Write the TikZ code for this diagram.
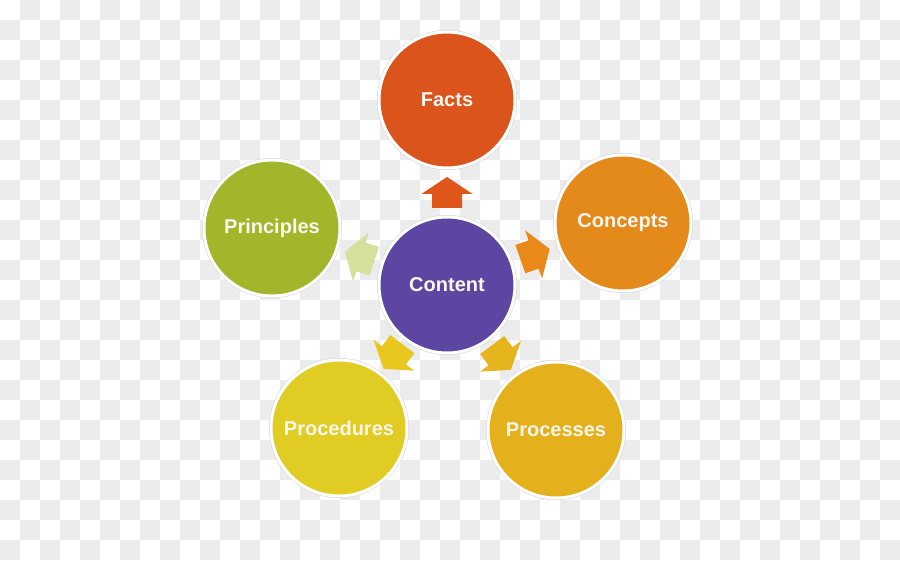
\documentclass[tikz,border=0pt]{standalone}
\usepackage{fontspec}
\setmainfont{Liberation Sans}
\usetikzlibrary{calc}
\definecolor{checkgrey}{RGB}{236,236,236}
\definecolor{factscol}{RGB}{218,84,28}
\definecolor{conceptscol}{RGB}{227,138,27}
\definecolor{principlescol}{RGB}{163,181,42}
\definecolor{contentcol}{RGB}{92,70,161}
\definecolor{procedurescol}{RGB}{225,204,36}
\definecolor{processescol}{RGB}{228,176,28}
\definecolor{factsarrow}{RGB}{222,86,26}
\definecolor{conceptsarrow}{RGB}{232,137,26}
\definecolor{principlesarrow}{RGB}{212,224,156}
\definecolor{proceduresarrow}{RGB}{232,200,30}
\definecolor{processesarrow}{RGB}{230,180,28}
\definecolor{labeltext}{RGB}{250,246,238}
\definecolor{shadowgrey}{RGB}{212,212,212}
\tikzset{
  bubble/.style={circle, minimum size=136pt, inner sep=0pt, draw=white, line width=3pt,
    text=labeltext, font=\bfseries\fontsize{20}{24}\selectfont},
  bubbleshadow/.style={circle, minimum size=140pt, inner sep=0pt, fill=shadowgrey, draw=none},
  blockarrow/.pic={
    \fill[pic actions] (-15.5,-15) -- (-1.5,-15) -- (-1.5,-25.5) -- (15.5,0)
      -- (-1.5,25.5) -- (-1.5,15) -- (-15.5,15) -- cycle;
  }
}
\begin{document}
\begin{tikzpicture}[x=1pt,y=1pt]
\useasboundingbox (0,0) rectangle (900,560);
% checkerboard background
\fill[white] (0,0) rectangle (900,560);
\foreach \i in {0,...,44}{
  \foreach \j in {0,...,27}{
    \pgfmathtruncatemacro{\parity}{mod(\i+\j,2)}
    \ifnum\parity=1
      \fill[checkgrey] (\i*20,540-\j*20) rectangle (\i*20+20,560-\j*20);
    \fi
  }
}
% shadows
\foreach \p in {(447,460),(623,337),(272,332),(447,275),(339,132),(556,130)}{
  \node[bubbleshadow] at \p {};
}
% circles
\node[bubble, fill=factscol] (facts) at (447,460) {Facts};
\node[bubble, fill=conceptscol] (concepts) at (623,337) {Concepts};
\node[bubble, fill=principlescol] (principles) at (272,332) {Principles};
\node[bubble, fill=contentcol] (content) at (447,275) {Content};
\node[bubble, fill=procedurescol] (procedures) at (339,132) {Procedures};
\node[bubble, fill=processescol] (processes) at (556,130) {Processes};
% block arrows
\pic[fill=factsarrow, rotate=90] at ($(content)!0.5!(facts)$) {blockarrow};
\pic[fill=conceptsarrow, rotate=19.4] at ($(content)!0.5!(concepts)$) {blockarrow};
\pic[fill=principlesarrow, rotate=162] at ($(content)!0.5!(principles)$) {blockarrow};
\pic[fill=proceduresarrow, rotate=232.9] at ($(content)!0.5!(procedures)$) {blockarrow};
\pic[fill=processesarrow, rotate=306.9] at ($(content)!0.5!(processes)$) {blockarrow};
\end{tikzpicture}
\end{document}
